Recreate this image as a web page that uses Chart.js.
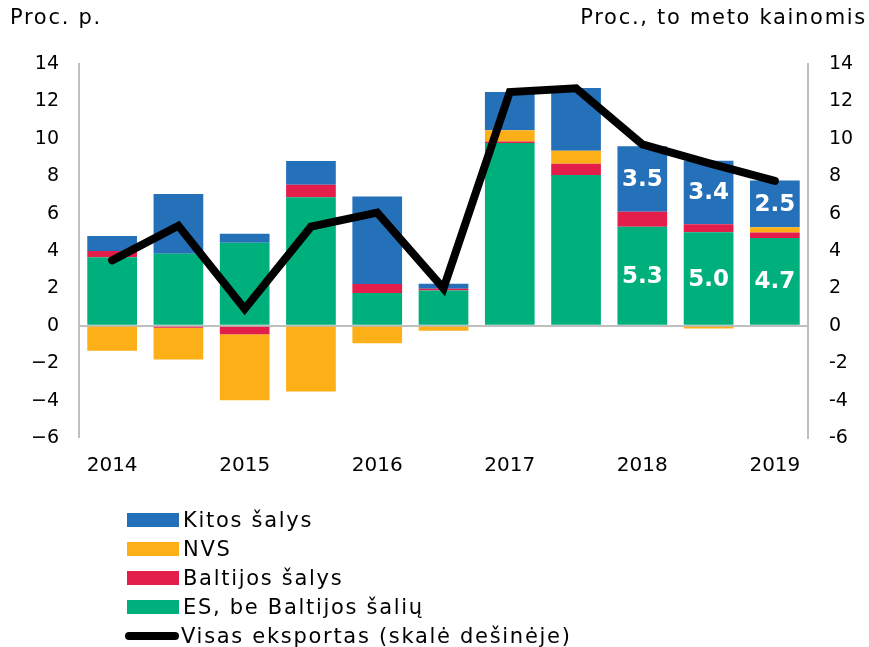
<!DOCTYPE html>
<html>
<head>
<meta charset="utf-8">
<script src="https://cdn.jsdelivr.net/npm/chart.js@4/dist/chart.umd.min.js"></script>
<style>
  body { margin: 0; background: #fff; font-family: "DejaVu Sans", Verdana, sans-serif; }
  #wrap { position: relative; width: 869px; height: 647px; }
  .ttl { position: absolute; top: 5px; font-size: 21px; letter-spacing: 1.7px; color: #000; }
  #legend { position: absolute; left: 127px; top: 505px; font-size: 21px; letter-spacing: 1.7px; color: #000; }
  #legend .row { height: 29px; display: flex; align-items: center; }
  #legend .sw { width: 52px; height: 14px; margin-right: 4px; }
  #legend .ln { width: 54px; height: 8px; border-radius: 4px; margin-right: 2px; margin-left: -2px; background: #000; }
</style>
</head>
<body>
<div id="wrap">
  <canvas id="myChart" width="869" height="647"></canvas>
  <div class="ttl" style="left:10px">Proc. p.</div>
  <div class="ttl" style="right:2px">Proc., to meto kainomis</div>
  <div id="legend"></div>
</div>
<script>
// half-year periods, year label on first half only
const labels = ['2014', '', '2015', '', '2016', '', '2017', '', '2018', '', '2019'];

const esBeBaltijos = [3.67, 3.85, 4.44, 6.88, 1.75, 1.89, 9.77, 8.06, 5.3, 5.0, 4.7];
const baltijosSalys = [0.33, -0.1, -0.45, 0.66, 0.48, 0.09, 0.09, 0.6, 0.8, 0.43, 0.29];
const nvs = [-1.34, -1.7, -3.53, -3.51, -0.93, -0.27, 0.6, 0.7, 0, -0.15, 0.28];
const kitosSalys = [0.8, 3.2, 0.48, 1.27, 4.69, 0.27, 2.04, 3.35, 3.5, 3.4, 2.5];
const visasEksportas = [3.5, 5.35, 0.9, 5.3, 6.05, 2.0, 12.5, 12.7, 9.7, 8.7, 7.75];

// which bars carry white value labels
const labelledBars = [8, 9, 10];

const font = "DejaVu Sans";
const minus = v => (v < 0 ? '\u2212' + Math.abs(v) : '' + v);

const valueLabels = {
    id: 'valueLabels',
    afterDatasetsDraw(chart) {
        const ctx = chart.ctx;
        ctx.save();
        ctx.fillStyle = '#fff';
        ctx.font = 'bold 23px "' + font + '"';
        ctx.textAlign = 'center';
        ctx.textBaseline = 'middle';
        chart.data.datasets.forEach(function(ds, di) {
            if (!ds.showValues) return;
            const meta = chart.getDatasetMeta(di);
            labelledBars.forEach(function(i) {
                const bar = meta.data[i];
                const props = bar.getProps(['x', 'y', 'base'], true);
                ctx.fillText(ds.data[i].toFixed(1), props.x, (props.y + props.base) / 2 + 1);
            });
        });
        ctx.restore();
    }
};

const data = {
    labels: labels,
    datasets: [
        {
            type: 'line',
            label: 'Visas eksportas (skalė dešinėje)',
            data: visasEksportas,
            yAxisID: 'y2',
            borderColor: '#000',
            borderWidth: 8,
            pointRadius: 0,
            borderCapStyle: 'round',
            borderJoinStyle: 'miter',
            tension: 0,
            order: 0
        },
        {label: 'ES, be Baltijos šalių', data: esBeBaltijos, backgroundColor: '#00b07c', showValues: true, order: 1},
        {label: 'Baltijos šalys', data: baltijosSalys, backgroundColor: '#e31e4a', order: 1},
        {label: 'NVS', data: nvs, backgroundColor: '#fcaf17', order: 1},
        {label: 'Kitos šalys', data: kitosSalys, backgroundColor: '#2470b9', showValues: true, order: 1}
    ]
};
data.datasets.slice(1).forEach(function(ds) {
    ds.type = 'bar';
    ds.yAxisID = 'y';
    ds.barPercentage = 0.75;
    ds.categoryPercentage = 1;
    ds.borderWidth = 0;
});

const config = {
    type: 'bar',
    data,
    plugins: [valueLabels],
    options: {
        responsive: false,
        animation: false,
        layout: {padding: {top: 64, bottom: 159, left: 0, right: 0}},
        plugins: {legend: {display: false}, tooltip: {enabled: false}},
        scales: {
            x: {
                stacked: true,
                offset: true,
                grid: {display: false, drawTicks: false},
                border: {display: false},
                ticks: {autoSkip: false, maxRotation: 0, padding: 16, color: '#000', font: {family: font, size: 20}},
                afterFit: s => { s.height = 50; }
            },
            y: {
                stacked: true,
                position: 'left',
                min: -6, max: 14,
                grid: {
                    drawTicks: false,
                    lineWidth: c => (c.tick.value === 0 ? 2 : 0),
                    color: '#bfbfbf'
                },
                border: {display: true, color: '#bfbfbf', width: 2},
                ticks: {stepSize: 2, padding: 20, color: '#000', font: {family: font, size: 19}, callback: v => minus(v)},
                afterFit: s => { s.width = 79; }
            },
            y2: {
                position: 'right',
                min: -6, max: 14,
                grid: {display: false, drawTicks: false},
                border: {display: true, color: '#bfbfbf', width: 2},
                ticks: {stepSize: 2, padding: 21, color: '#000', font: {family: font, size: 19}, callback: v => '' + v},
                afterFit: s => { s.width = 61; }
            }
        }
    }
};

const myChart = new Chart(document.getElementById('myChart'), config);

// legend, same order as the original (bars top to bottom, then line)
const legend = document.getElementById('legend');
data.datasets.slice(1).reverse().concat([data.datasets[0]]).forEach(function(ds) {
    const row = document.createElement('div');
    row.className = 'row';
    const sw = document.createElement('div');
    if (ds.type === 'line') {
        sw.className = 'ln';
    } else {
        sw.className = 'sw';
        sw.style.background = ds.backgroundColor;
    }
    row.appendChild(sw);
    row.appendChild(document.createTextNode(ds.label));
    legend.appendChild(row);
});
</script>
</body>
</html>
